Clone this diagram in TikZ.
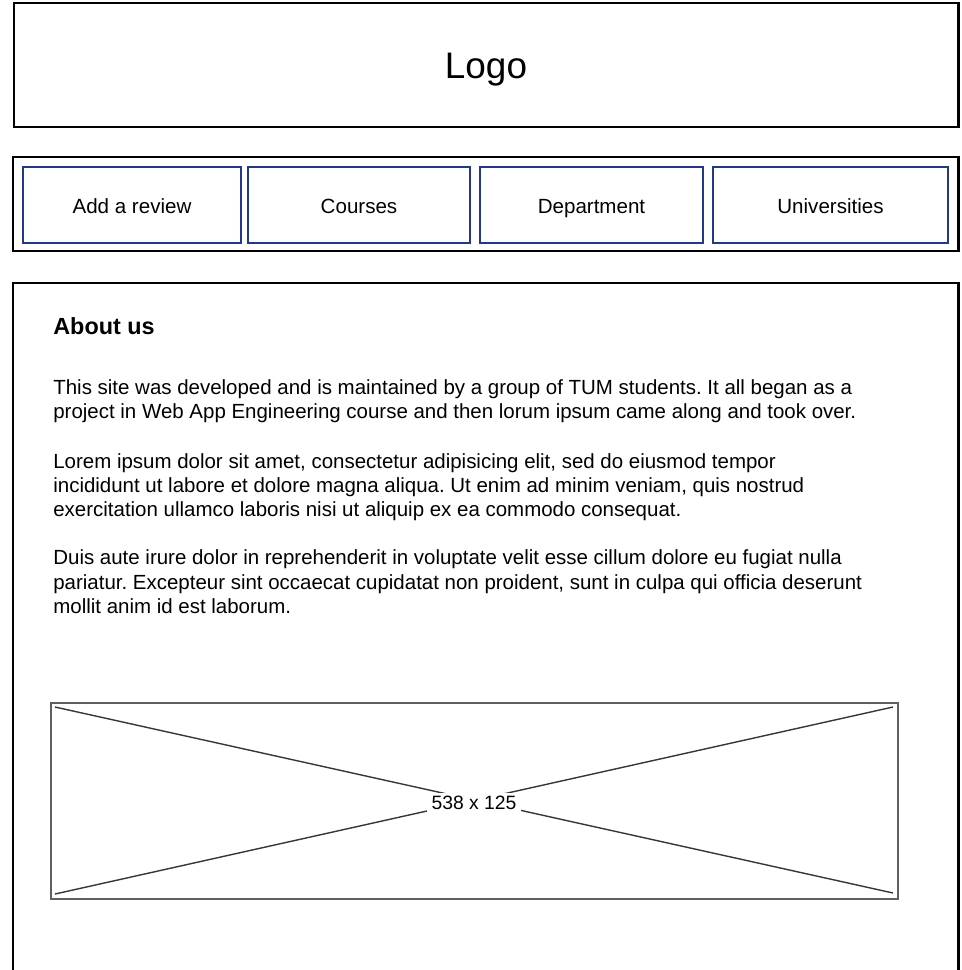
\documentclass[tikz,border=0pt]{standalone}
\usepackage{fontspec}
\setmainfont{Liberation Sans}
\frenchspacing
\definecolor{navblue}{RGB}{36,56,138}
\definecolor{imggray}{RGB}{55,55,55}
\definecolor{boxgray}{RGB}{95,95,95}
\begin{document}
\begin{tikzpicture}[x=0.02cm,y=-0.02cm,
  frame/.style={draw=black,line width=1.7pt},
  navbtn/.style={draw=navblue,line width=1.4pt},
  navlabel/.style={anchor=base,font=\fontsize{11.7}{13}\selectfont,inner sep=0pt},
  bodyline/.style={anchor=base west,inner sep=0pt,font=\fontsize{11.65}{13}\selectfont},
  imgline/.style={draw=imggray,line width=0.8pt}]
\useasboundingbox (0,0) rectangle (961,970);
% logo
\draw[frame] (14,3) rectangle (958,127);
\node[anchor=base,inner sep=0pt,font=\fontsize{21}{24}\selectfont] (logo) at (486,78) {Logo};
% nav bar
\draw[frame] (13,157) rectangle (958,251);
\draw[navbtn] (23,167) rectangle (241,243);
\draw[navbtn] (248,167) rectangle (470,243);
\draw[navbtn] (480,167) rectangle (703,243);
\draw[navbtn] (713,167) rectangle (948,243);
\node[navlabel] (n1) at (132,213) {Add a review};
\node[navlabel] (n2) at (359,213) {Courses};
\node[navlabel] (n3) at (591.5,213) {Department};
\node[navlabel] (n4) at (830.5,213) {Universities};
% content
\draw[frame] (13,975) -- (13,283) -- (958,283) -- (958,975);
\node[anchor=base west,inner sep=0pt,font=\fontsize{13.3}{15}\selectfont\bfseries] (about) at (53,334) {About us};
\node[bodyline] (l1) at (53,394) {This site was developed and is maintained by a group of TUM students. It all began as a};
\node[bodyline] (l2) at (53,418.5) {project in Web App Engineering course and then lorum ipsum came along and took over.};
\node[bodyline] (l3) at (53,468) {Lorem ipsum dolor sit amet, consectetur adipisicing elit, sed do eiusmod tempor};
\node[bodyline] (l4) at (53,492) {incididunt ut labore et dolore magna aliqua. Ut enim ad minim veniam, quis nostrud};
\node[bodyline] (l5) at (53,516.5) {exercitation ullamco laboris nisi ut aliquip ex ea commodo consequat.};
\node[bodyline] (l6) at (53,564.5) {Duis aute irure dolor in reprehenderit in voluptate velit esse cillum dolore eu fugiat nulla};
\node[bodyline] (l7) at (53,589) {pariatur. Excepteur sint occaecat cupidatat non proident, sunt in culpa qui officia deserunt};
\node[bodyline] (l8) at (53,613.5) {mollit anim id est laborum.};
% image placeholder
\draw[draw=boxgray,line width=1pt] (51,703) rectangle (898,899);
\coordinate (tl) at (55,707);
\coordinate (tr) at (893,707);
\coordinate (bl) at (55,894);
\coordinate (br) at (893,893);
\draw[imgline] (tl) -- (br);
\draw[imgline] (bl) -- (tr);
\node[fill=white,inner xsep=2.5pt,inner ysep=2pt,font=\fontsize{11}{13}\selectfont] (imglabel) at (474,803) {538 x 125};
\end{tikzpicture}
\end{document}
